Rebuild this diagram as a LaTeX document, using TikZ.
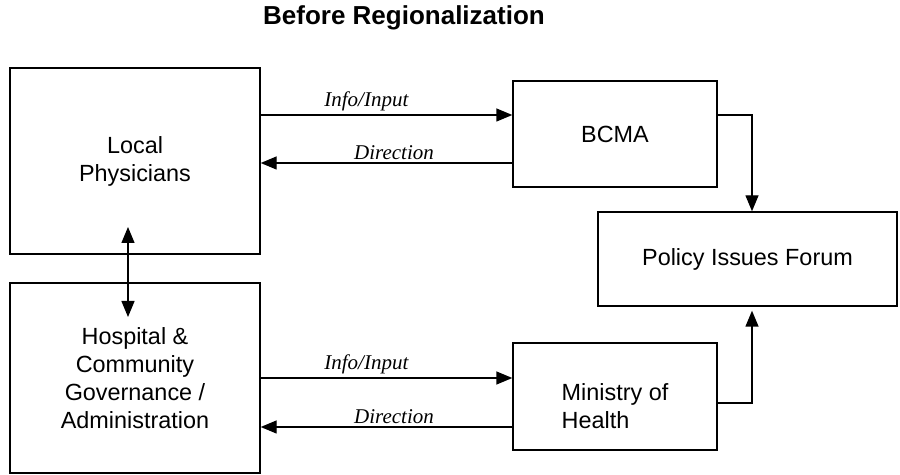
\documentclass[tikz,border=0pt]{standalone}
\usepackage{fontspec}
\setmainfont{Liberation Sans}
\newfontfamily\flowfont{Liberation Serif}
\usetikzlibrary{arrows.meta}

\tikzset{
  box/.style={draw,line width=0.7pt,inner sep=0pt,align=center,
    font=\fontsize{11.7}{14}\selectfont},
  flowlabel/.style={font=\flowfont\itshape\fontsize{10.5}{12}\selectfont,inner sep=1.5pt}
}

\begin{document}
\begin{tikzpicture}[x=0.5pt,y=-0.5pt,line width=0.7pt,>={Triangle[length=8pt,width=6.5pt]}]
    \useasboundingbox (0,0) rectangle (900,475);
    \node[font=\bfseries\fontsize{13}{15}\selectfont] (title) at (404,18) {Before Regionalization};
    %
    \node[box,minimum width=125pt,minimum height=93pt] (phys) at (135,161) {Local\\Physicians};
    \node[box,minimum width=125pt,minimum height=95pt] (hosp) at (135,378)
      {Hospital \&\\Community\\Governance /\\Administration};
    \node[box,minimum width=102pt,minimum height=53pt] (bcma) at (615,134) {BCMA};
    \node[box,minimum width=102pt,minimum height=53.5pt,
      label={[align=left,font=\fontsize{11.7}{14}\selectfont,yshift=-5pt]center:Ministry of\\Health}] (moh) at (615,396.5) {};
    \node[box,minimum width=149.5pt,minimum height=47pt] (pif) at (747.5,259) {Policy Issues Forum};
    %
    \coordinate (up) at (128,227);
    \coordinate (dn) at (128,317);
    \draw[<->] (up) -- (dn);
    %
    \draw[->] (phys.east |- 0,115) -- node[flowlabel,above,pos=0.42] {Info/Input} (bcma.west |- 0,115);
    \draw[->] (bcma.west |- 0,163) -- node[flowlabel,above,pos=0.47] {Direction} (phys.east |- 0,163);
    \draw[->] (hosp.east |- 0,378) -- node[flowlabel,above,pos=0.42] {Info/Input} (moh.west |- 0,378);
    \draw[->] (moh.west |- 0,427) -- node[flowlabel,above,pos=0.47] {Direction} (hosp.east |- 0,427);
    %
    \draw[->] (bcma.east |- 0,115) -| (pif.north -| 752,0);
    \draw[->] (moh.east |- 0,403) -| ([yshift=-2pt]pif.south -| 752,0);
\end{tikzpicture}
\end{document}
